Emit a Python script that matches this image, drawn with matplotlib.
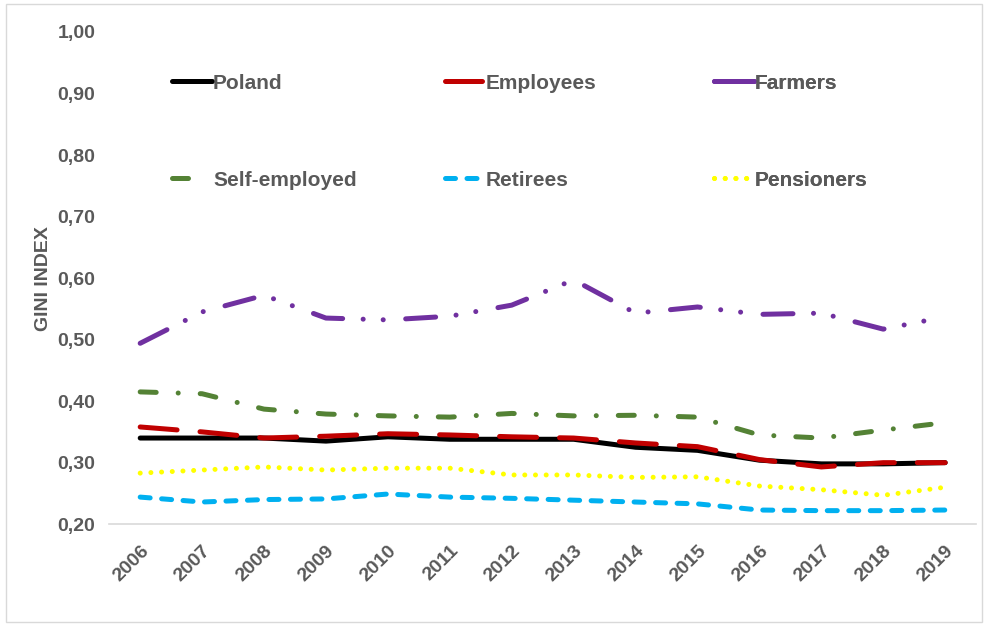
import matplotlib
matplotlib.use("Agg")
import matplotlib.pyplot as plt
from matplotlib.patches import Rectangle
from matplotlib.ticker import FuncFormatter

years = list(range(2006, 2020))

poland = [0.340, 0.340, 0.340, 0.335, 0.342, 0.338, 0.338, 0.338, 0.325, 0.320, 0.304, 0.298, 0.298, 0.300]
employees = [0.358, 0.350, 0.340, 0.343, 0.347, 0.345, 0.342, 0.340, 0.332, 0.326, 0.305, 0.293, 0.300, 0.300]
farmers = [0.494, 0.545, 0.572, 0.535, 0.532, 0.538, 0.556, 0.597, 0.543, 0.553, 0.541, 0.543, 0.517, 0.537]
self_employed = [0.415, 0.412, 0.387, 0.379, 0.376, 0.374, 0.380, 0.376, 0.377, 0.374, 0.345, 0.340, 0.353, 0.365]
retirees = [0.244, 0.236, 0.240, 0.241, 0.249, 0.244, 0.242, 0.239, 0.236, 0.233, 0.223, 0.222, 0.222, 0.223]
pensioners = [0.283, 0.288, 0.293, 0.288, 0.291, 0.291, 0.280, 0.280, 0.276, 0.277, 0.262, 0.256, 0.247, 0.260]

gray = '#595959'
plt.rcParams['font.family'] = ['Liberation Sans', 'DejaVu Sans']

fig = plt.figure(figsize=(9.84, 6.27), dpi=100)
fig.patches.append(Rectangle((0.006, 0.008), 0.992, 0.986, transform=fig.transFigure,
                             fill=False, edgecolor='#d9d9d9', linewidth=1))
ax = fig.add_axes([0.111, 0.164, 0.881, 0.785])

lw = 3.6
kw = dict(linewidth=lw, dash_capstyle='round', solid_capstyle='round')
l1, = ax.plot(years, poland, color='black', label='Poland', **kw)
l2, = ax.plot(years, employees, color='#C00000', label='Employees', dashes=(7.4, 4.6), **kw)
l3, = ax.plot(years, farmers, color='#7030A0', label='Farmers',
              dashes=(6, 4.1, 0.01, 4, 0.01, 4.5), **kw)
l4, = ax.plot(years, self_employed, color='#548235', label='Self-employed',
              dashes=(3.2, 4.4, 0.01, 4.4), **kw)
l5, = ax.plot(years, retirees, color='#00B0F0', label='Retirees', dashes=(2, 2.3), **kw)
l6, = ax.plot(years, pensioners, color='#FFFF00', label='Pensioners', dashes=(0.01, 2.13), **kw)

ax.set_xlim(2005.5, 2019.5)
ax.set_ylim(0.2, 1.0)
ax.set_yticks([0.2, 0.3, 0.4, 0.5, 0.6, 0.7, 0.8, 0.9, 1.0])
ax.yaxis.set_major_formatter(FuncFormatter(lambda v, p: f"{v:.2f}".replace('.', ',')))
ax.set_xticks(years)
ax.set_xticklabels([str(y) for y in years], rotation=45, ha='right', rotation_mode='anchor')

for s in ['top', 'right', 'left']:
    ax.spines[s].set_visible(False)
ax.spines['bottom'].set_color('#d9d9d9')
ax.spines['bottom'].set_linewidth(1.2)
ax.tick_params(axis='both', length=0, labelsize=14, labelcolor=gray)
ax.tick_params(axis='y', pad=10)
ax.tick_params(axis='x', pad=13)
for t in ax.get_xticklabels() + ax.get_yticklabels():
    t.set_fontweight('bold')

ax.set_ylabel('GINI INDEX', fontsize=14, fontweight='bold', color=gray, labelpad=4)

cols = [([l1, l4], 0.056), ([l2, l5], 0.370), ([l3, l6], 0.681)]
for handles, x0 in cols:
    leg = ax.legend(handles=handles, loc='upper left', bbox_to_anchor=(x0, 0.945),
                    frameon=False, handlelength=1.9, handletextpad=0.05,
                    borderpad=0.2, labelspacing=3.75, prop=dict(size=15, weight='bold'))
    for t in leg.get_texts():
        t.set_color(gray)
    for h in leg.legend_handles:
        if h.get_label() == 'Farmers':
            h.set_linestyle('-')
        elif h.get_label() == 'Self-employed':
            h.set_dashes((3.2, 12))
    ax.add_artist(leg)

fig.savefig('out.png', dpi=100)
